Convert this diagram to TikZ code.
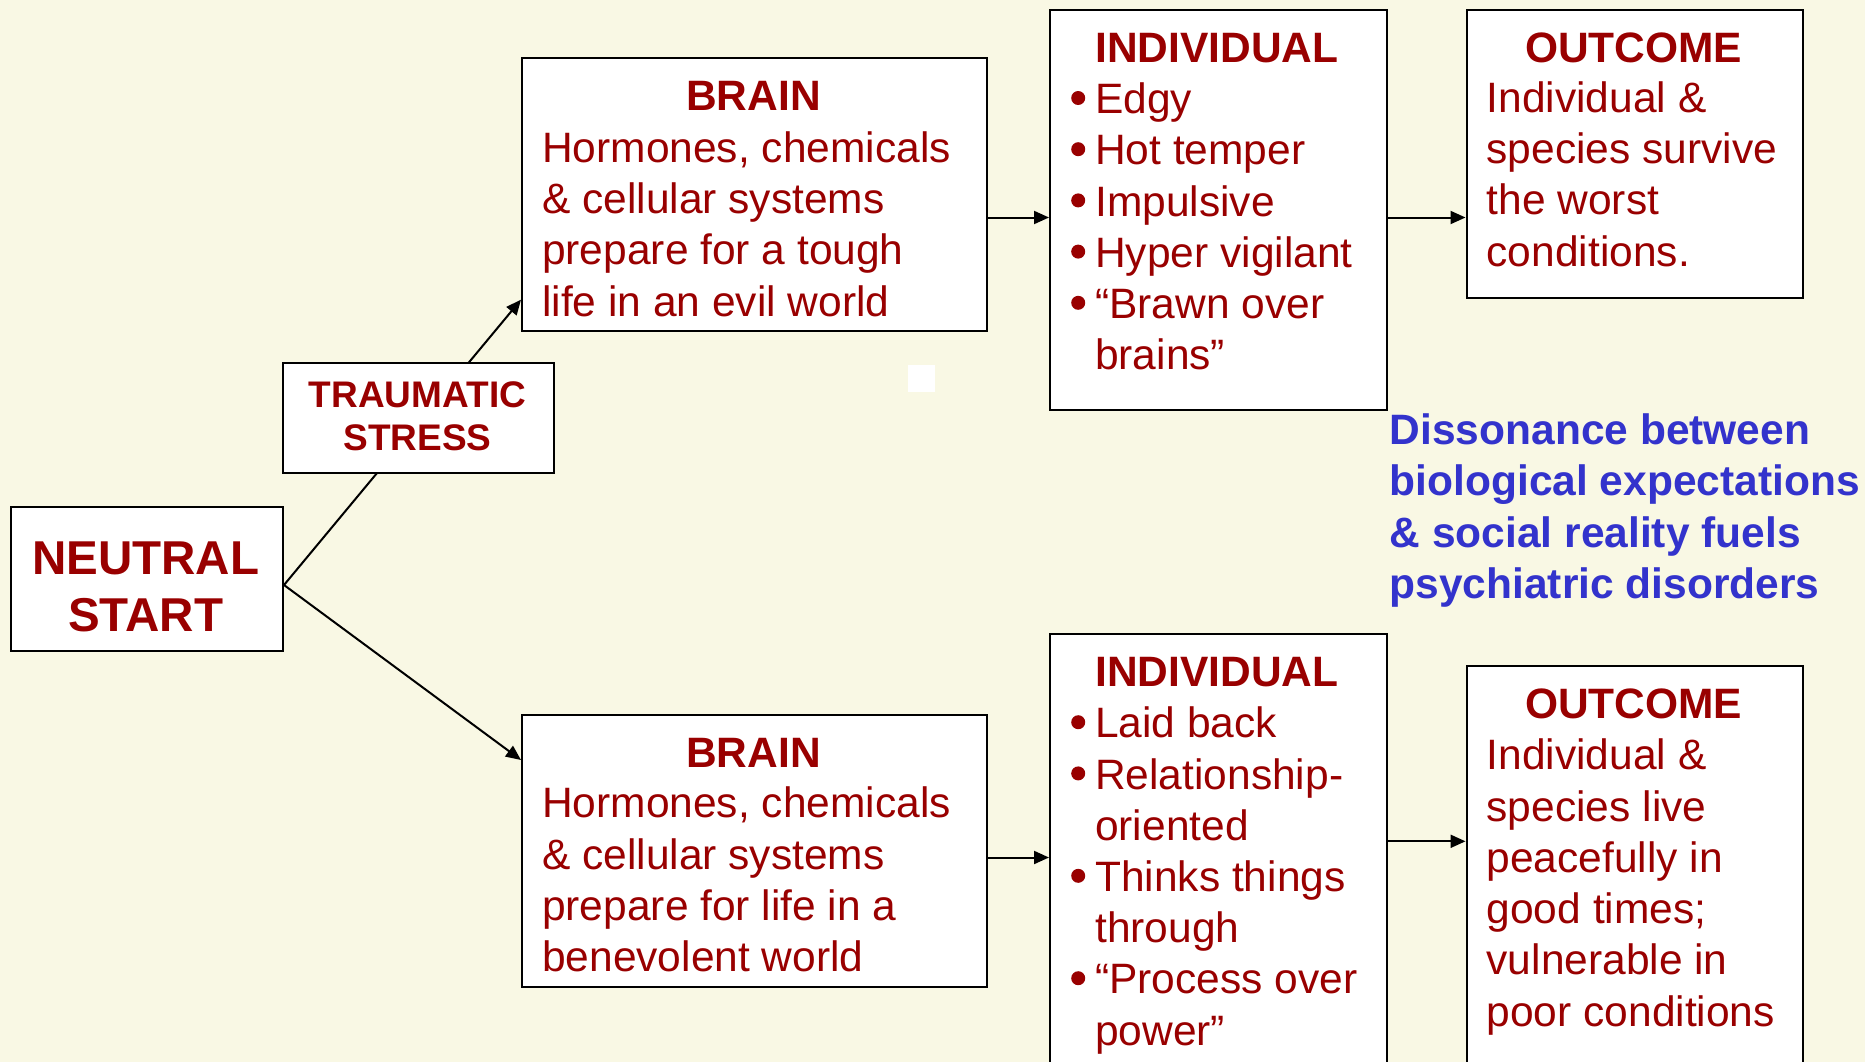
\documentclass[tikz,border=0pt]{standalone}
\usepackage{fontspec}
\setmainfont{Liberation Sans}
\usetikzlibrary{arrows.meta,calc}
\definecolor{bg}{RGB}{249,248,228}
\definecolor{dred}{RGB}{153,0,0}
\definecolor{dblue}{RGB}{51,51,204}
\newcommand{\fst}[1]{\rule{0pt}{#1pt}}
\newcommand{\bul}{\makebox[24pt][l]{\raisebox{8.7pt}{\tikz\fill[dred] (0,0) circle (7pt);}}}
\newcommand{\nob}{\makebox[24pt][l]{}}
\begin{document}
\begin{tikzpicture}[x=1pt,y=-1pt,
  box/.style={draw=black, line width=2pt, fill=white, inner sep=0pt, anchor=north west},
  arr/.style={line width=2pt, -{Triangle[length=15pt,width=13pt]}},
  body/.style={inner sep=0pt, text=dred, align=left, anchor=north west,
    font=\fontsize{42.5}{51.2}\selectfont},
  ttl/.style={inner sep=0pt, text=dred, anchor=base,
    font=\bfseries\fontsize{42.5}{51.2}\selectfont}]
\clip (0,0) rectangle (1865,1062);
\fill[bg] (0,0) rectangle (1865,1062);
% boxes
\node[box, minimum width=272.5pt, minimum height=144pt] (ns) at (9.5,505.5) {};
\node[box, minimum width=465pt, minimum height=272.5pt] (brainT) at (521,57) {};
\node[box, minimum width=336.6pt, minimum height=399.5pt] (indT) at (1049,9.5) {};
\node[box, minimum width=336.3pt, minimum height=287.3pt] (outT) at (1465.5,9.5) {};
\node[box, minimum width=465pt, minimum height=272.4pt] (brainB) at (521,713.6) {};
\node[box, minimum width=336.6pt, minimum height=440pt] (indB) at (1049,633.3) {};
\node[box, minimum width=336.3pt, minimum height=410pt] (outB) at (1465.5,665.3) {};
\node[fill=white, inner sep=0pt, minimum width=27.5pt, minimum height=26.3pt, anchor=north west] (sq) at (907.5,365) {};
% texts
\node[inner sep=0pt, text=dred, align=center, anchor=north,
  font=\bfseries\fontsize{47.5}{57}\selectfont] (nst) at (145.7,529.5) {\fst{45}NEUTRAL\\START};
\node[ttl] (brainTt) at (753.5,111) {BRAIN};
\node[body, font=\fontsize{42.5}{51.4}\selectfont] (brainTb) at (542,121.8)
  {\fst{40}Hormones, chemicals\\\& cellular systems\\prepare for a tough\\life in an evil world};
\node[body] (indTb) at (1071,22.3)
  {\fst{40}\nob\textbf{INDIVIDUAL}\\\bul Edgy\\\bul Hot temper\\\bul Impulsive\\\bul Hyper vigilant\\\bul “Brawn over\\\nob brains”};
\node[ttl] (outTt) at (1633.6,62.3) {OUTCOME};
\node[body] (outTb) at (1486.5,72.3)
  {\fst{40}Individual \&\\species survive\\the worst\\conditions.};
\node[ttl] (brainBt) at (753.5,767) {BRAIN};
\node[body, font=\fontsize{42.5}{51.2}\selectfont] (brainBb) at (542,777.6)
  {\fst{40}Hormones, chemicals\\\& cellular systems\\prepare for life in a\\benevolent world};
\node[body] (indBb) at (1071,646.5)
  {\fst{40}\nob\textbf{INDIVIDUAL}\\\bul Laid back\\\bul Relationship-\\\nob oriented\\\bul Thinks things\\\nob through\\\bul “Process over\\\nob power”};
\node[ttl] (outBt) at (1633.6,718.3) {OUTCOME};
\node[body, font=\fontsize{42.5}{51.3}\selectfont] (outBb) at (1486.5,729.5)
  {\fst{40}Individual \&\\species live\\peacefully in\\good times;\\vulnerable in\\poor conditions};
\node[body, text=dblue, font=\bfseries\fontsize{42.5}{51.5}\selectfont] (diss) at (1389.5,404)
  {\fst{40}Dissonance between\\biological expectations\\\& social reality fuels\\psychiatric disorders};
% connectors
\coordinate (yT) at (0,217.5);
\coordinate (yBa) at (0,857.5);
\coordinate (yBb) at (0,841.3);
\draw[arr] ($(ns.east)+(0,6.5)$) -- ($(brainT.north west)+(0,242.7)$);
\draw[arr] ($(ns.east)+(0,6.5)$) -- ($(brainB.north west)+(0,46.4)$);
\draw[arr] (brainT.east |- yT) -- (indT.west |- yT);
\draw[arr] (indT.east |- yT) -- (outT.west |- yT);
\draw[arr] (brainB.east |- yBa) -- (indB.west |- yBa);
\draw[arr] (indB.east |- yBb) -- (outB.west |- yBb);
% traumatic stress box on top of the line
\node[box, minimum width=271pt, minimum height=110.6pt] (ts) at (282,361.6) {};
\node[inner sep=0pt, text=dred, align=center, anchor=north,
  font=\bfseries\fontsize{37}{43}\selectfont] (tst) at (417.5,371.5) {\fst{36}TRAUMATIC\\STRESS};
\end{tikzpicture}
\end{document}
